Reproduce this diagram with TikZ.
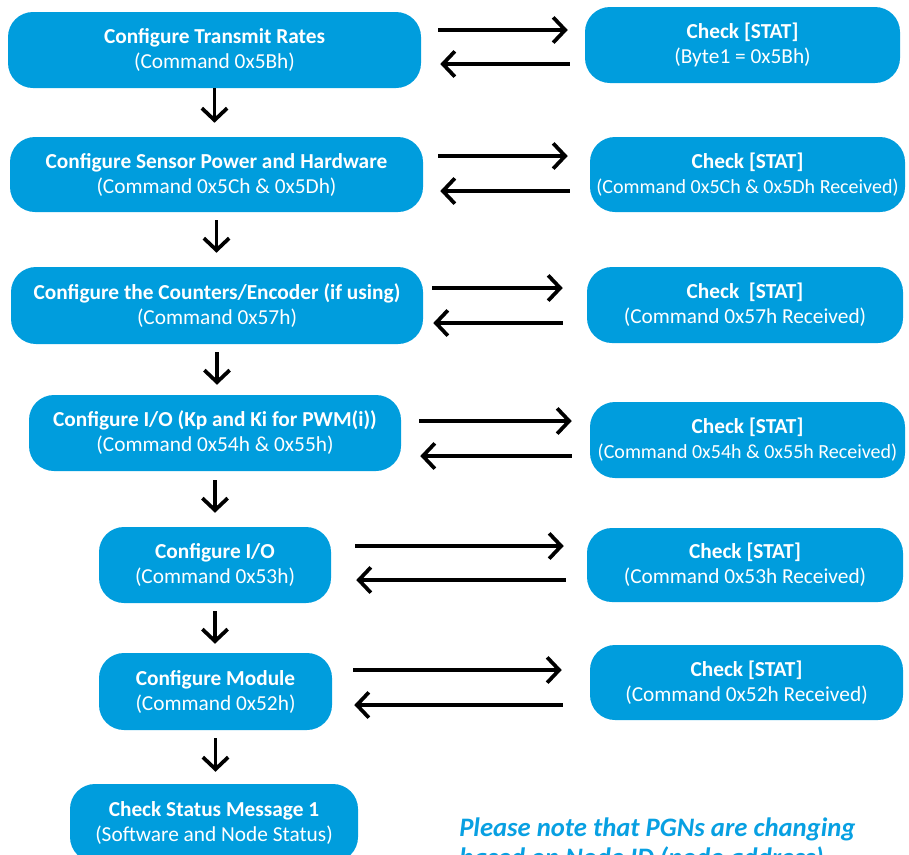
\documentclass[tikz,border=0pt]{standalone}
\usepackage{fontspec}
\setmainfont{Carlito}
\usetikzlibrary{arrows.meta}
\definecolor{boxblue}{RGB}{0,157,221}
\definecolor{noteblue}{RGB}{8,160,226}
% slightly smaller second line for the widest status boxes
\newcommand{\smallsub}[1]{{\fontsize{15}{18.75}\selectfont #1}}
\begin{document}
\begin{tikzpicture}[x=0.75pt,y=-0.75pt,
  box/.style={fill=boxblue, rounded corners=18.75pt, text=white, align=center,
    inner sep=0pt, font=\fontsize{16}{18.75}\selectfont},
  sz/.style 2 args={minimum width=#1*0.75pt, minimum height=#2*0.75pt},
  link/.style={line width=2.8pt, -{Straight Barb[length=9pt,width=19pt]}},
  note/.style={text=noteblue, align=left, inner sep=0pt,
    font=\fontsize{20}{22.5}\selectfont\bfseries\itshape}]
\useasboundingbox (0,0) rectangle (909,854);
\clip (0,0) rectangle (909,854);

% configuration steps (left column)
\node[box, sz={413}{76}] (L1) at (214.5,50)
  {\textbf{Configure Transmit Rates}\\(Command 0x5Bh)};
\node[box, sz={413}{75}] (L2) at (216.5,174.5)
  {\textbf{Configure Sensor Power and Hardware}\\(Command 0x5Ch \& 0x5Dh)};
\node[box, sz={412}{77}] (L3) at (217,305.5)
  {\textbf{Configure the Counters/Encoder (if using)}\\(Command 0x57h)};
\node[box, sz={372}{76}] (L4) at (215,433)
  {\textbf{Configure I/O (Kp and Ki for PWM(i))}\\(Command 0x54h \& 0x55h)};
\node[box, sz={232}{76}] (L5) at (215,565)
  {\textbf{Configure I/O}\\(Command 0x53h)};
\node[box, sz={233}{77}] (L6) at (215.5,691.5)
  {\textbf{Configure Module}\\(Command 0x52h)};
\node[box, sz={288}{78}] (L7) at (214,823)
  {\textbf{Check Status Message 1}\\(Software and Node Status)};

% status checks (right column)
\node[box, sz={315}{76}] (R1) at (742.5,45)
  {\textbf{Check [STAT]}\\(Byte1 = 0x5Bh)};
\node[box, sz={315}{75}] (R2) at (747.5,174.5)
  {\textbf{Check [STAT]}\\\smallsub{(Command 0x5Ch \& 0x5Dh Received)}};
\node[box, sz={316}{76}] (R3) at (745,305)
  {\textbf{Check \ [STAT]}\\(Command 0x57h Received)};
\node[box, sz={315}{76}] (R4) at (747.5,440)
  {\textbf{Check [STAT]}\\\smallsub{(Command 0x54h \& 0x55h Received)}};
\node[box, sz={316}{74}] (R5) at (745,565)
  {\textbf{Check [STAT]}\\(Command 0x53h Received)};
\node[box, sz={313}{75}] (R6) at (746.5,682.5)
  {\textbf{Check [STAT]}\\(Command 0x52h Received)};

% sequence arrows
\draw[link, shorten >=10.5pt] (L1.south) -- (L1.south |- L2.north);
\draw[link, shorten <=6pt, shorten >=10.5pt] (L2.south) -- (L2.south |- L3.north);
\draw[link, shorten <=6pt, shorten >=7.5pt] (L3.south) -- (L3.south |- L4.north);
\draw[link, shorten <=6.75pt, shorten >=10.5pt] (L4.south) -- (L4.south |- L5.north);
\draw[link, shorten <=6pt, shorten >=6.75pt] (L5.south) -- (L5.south |- L6.north);
\draw[link, shorten <=6pt, shorten >=9pt] (L6.south) -- (L6.south |- L7.north);

% request / reply arrows
\draw[link, shorten <=12.75pt, shorten >=12.75pt] ([yshift=15pt]L1.east) -- ([yshift=15pt]L1.east -| R1.west);
\draw[link, shorten <=11.25pt, shorten >=14.25pt] ([yshift=-10.5pt]L1.east -| R1.west) -- ([yshift=-10.5pt]L1.east);

\draw[link, shorten <=11.25pt, shorten >=16.5pt] ([yshift=13.875pt]L2.east) -- ([yshift=13.875pt]L2.east -| R2.west);
\draw[link, shorten <=15pt, shorten >=12.75pt] ([yshift=-12.375pt]L2.east -| R2.west) -- ([yshift=-12.375pt]L2.east);

\draw[link, shorten <=6.75pt, shorten >=18pt] ([yshift=13.125pt]L3.east) -- ([yshift=13.125pt]L3.east -| R3.west);
\draw[link, shorten <=18pt, shorten >=7.5pt] ([yshift=-13.125pt]L3.east -| R3.west) -- ([yshift=-13.125pt]L3.east);

\draw[link, shorten <=13.5pt, shorten >=13.5pt] ([yshift=9pt]L4.east) -- ([yshift=9pt]L4.east -| R4.west);
\draw[link, shorten <=13.5pt, shorten >=14.25pt] ([yshift=-17.25pt]L4.east -| R4.west) -- ([yshift=-17.25pt]L4.east);

\draw[link, shorten <=18pt, shorten >=17.25pt] ([yshift=14.25pt]L5.east) -- ([yshift=14.25pt]L5.east -| R5.west);
\draw[link, shorten <=15.75pt, shorten >=18.75pt] ([yshift=-11.25pt]L5.east -| R5.west) -- ([yshift=-11.25pt]L5.east);

\draw[link, shorten <=15.75pt, shorten >=21pt] ([yshift=16.125pt]L6.east) -- ([yshift=16.125pt]L6.east -| R6.west);
\draw[link, shorten <=20.25pt, shorten >=16.5pt] ([yshift=-10.125pt]L6.east -| R6.west) -- ([yshift=-10.125pt]L6.east);

% footnote (second line runs off the bottom edge)
\node[note, anchor=base west] (N) at (459,866)
  {Please note that PGNs are changing\\based on Node ID (node address)};
\end{tikzpicture}
\end{document}
